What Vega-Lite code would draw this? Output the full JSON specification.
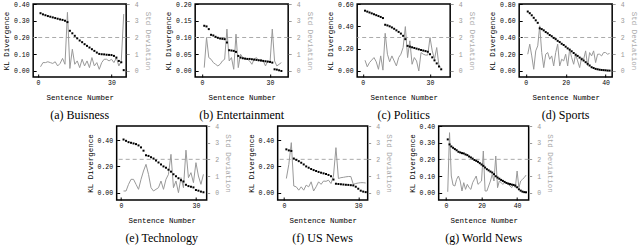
{
"$schema":"https://vega.github.io/schema/vega-lite/v6.json",
"padding":{"left":1,"top":0,"right":0,"bottom":0},
"background":"white",
"config":{
 "view":{"stroke":"#000","strokeWidth":1.5},
 "axis":{"labelFont":"Liberation Mono","labelFontSize":6.5,"titleFont":"Liberation Mono","titleFontSize":7.5,"titleFontWeight":"normal","grid":false,"tickSize":-3,"tickColor":"#000","labelColor":"#000","titleColor":"#000","domain":false},
 "title":{"font":"Liberation Serif","fontSize":12,"fontWeight":"normal","color":"#000","orient":"bottom","offset":9,"anchor":"middle"}
},
"datasets":{
 "rows":[
{"p":"a","x":1,"kl":0.345,"std":0.25},{"p":"a","x":2,"kl":0.338,"std":0.5},{"p":"a","x":3,"kl":0.333,"std":0.5},{"p":"a","x":4,"kl":0.328,"std":0.55},{"p":"a","x":5,"kl":0.324,"std":0.5},{"p":"a","x":6,"kl":0.32,"std":0.45},{"p":"a","x":7,"kl":0.316,"std":0.55},{"p":"a","x":8,"kl":0.312,"std":0.3},{"p":"a","x":9,"kl":0.308,"std":0.45},{"p":"a","x":10,"kl":0.305,"std":0.75},{"p":"a","x":11,"kl":0.3,"std":0.4},{"p":"a","x":12,"kl":0.292,"std":3.5},{"p":"a","x":13,"kl":0.24,"std":0.15},{"p":"a","x":14,"kl":0.225,"std":1.3},{"p":"a","x":15,"kl":0.21,"std":0.4},{"p":"a","x":16,"kl":0.195,"std":0.6},{"p":"a","x":17,"kl":0.182,"std":0.2},{"p":"a","x":18,"kl":0.172,"std":0.7},{"p":"a","x":19,"kl":0.16,"std":0.3},{"p":"a","x":20,"kl":0.15,"std":0.6},{"p":"a","x":21,"kl":0.14,"std":0.2},{"p":"a","x":22,"kl":0.13,"std":0.8},{"p":"a","x":23,"kl":0.12,"std":0.3},{"p":"a","x":24,"kl":0.11,"std":0.5},{"p":"a","x":25,"kl":0.102,"std":0.1},{"p":"a","x":26,"kl":0.1,"std":0.5},{"p":"a","x":27,"kl":0.099,"std":0.7},{"p":"a","x":28,"kl":0.097,"std":0.7},{"p":"a","x":29,"kl":0.096,"std":0.6},{"p":"a","x":30,"kl":0.095,"std":0.7},{"p":"a","x":31,"kl":0.09,"std":0.5},{"p":"a","x":32,"kl":0.08,"std":0.8},{"p":"a","x":33,"kl":0.06,"std":0.3},{"p":"a","x":34,"kl":0.052,"std":0.6},{"p":"a","x":35,"kl":0.005,"std":3.4},
{"p":"b","x":1,"kl":0.135,"std":0.2},{"p":"b","x":2,"kl":0.133,"std":2.0},{"p":"b","x":3,"kl":0.125,"std":0.8},{"p":"b","x":4,"kl":0.108,"std":0.7},{"p":"b","x":5,"kl":0.106,"std":0.5},{"p":"b","x":6,"kl":0.102,"std":0.4},{"p":"b","x":7,"kl":0.099,"std":0.3},{"p":"b","x":8,"kl":0.097,"std":0.4},{"p":"b","x":9,"kl":0.096,"std":0.6},{"p":"b","x":10,"kl":0.095,"std":0.7},{"p":"b","x":11,"kl":0.085,"std":2.5},{"p":"b","x":12,"kl":0.062,"std":0.6},{"p":"b","x":13,"kl":0.061,"std":0.8},{"p":"b","x":14,"kl":0.06,"std":0.1},{"p":"b","x":15,"kl":0.057,"std":2.2},{"p":"b","x":16,"kl":0.045,"std":0.2},{"p":"b","x":17,"kl":0.04,"std":1.0},{"p":"b","x":18,"kl":0.038,"std":0.8},{"p":"b","x":19,"kl":0.037,"std":0.7},{"p":"b","x":20,"kl":0.036,"std":0.7},{"p":"b","x":21,"kl":0.036,"std":0.6},{"p":"b","x":22,"kl":0.035,"std":0.4},{"p":"b","x":23,"kl":0.034,"std":0.7},{"p":"b","x":24,"kl":0.033,"std":0.8},{"p":"b","x":25,"kl":0.032,"std":0.6},{"p":"b","x":26,"kl":0.031,"std":0.7},{"p":"b","x":27,"kl":0.03,"std":0.6},{"p":"b","x":28,"kl":0.029,"std":0.3},{"p":"b","x":29,"kl":0.028,"std":0.6},{"p":"b","x":30,"kl":0.027,"std":0.5},{"p":"b","x":31,"kl":0.025,"std":2.5},{"p":"b","x":32,"kl":0.005,"std":0.6},{"p":"b","x":33,"kl":0.004,"std":0.3},{"p":"b","x":34,"kl":0.002,"std":0.4},{"p":"b","x":35,"kl":0.0,"std":0.5},
{"p":"c","x":1,"kl":0.54,"std":0.64},{"p":"c","x":2,"kl":0.532,"std":0.25},{"p":"c","x":3,"kl":0.524,"std":0.5},{"p":"c","x":4,"kl":0.516,"std":0.65},{"p":"c","x":5,"kl":0.508,"std":0.8},{"p":"c","x":6,"kl":0.5,"std":0.55},{"p":"c","x":7,"kl":0.492,"std":0.1},{"p":"c","x":8,"kl":0.484,"std":0.9},{"p":"c","x":9,"kl":0.474,"std":0.05},{"p":"c","x":10,"kl":0.414,"std":2.25},{"p":"c","x":11,"kl":0.408,"std":1.0},{"p":"c","x":12,"kl":0.4,"std":0.55},{"p":"c","x":13,"kl":0.39,"std":0.9},{"p":"c","x":14,"kl":0.378,"std":0.6},{"p":"c","x":15,"kl":0.364,"std":0.3},{"p":"c","x":16,"kl":0.35,"std":0.8},{"p":"c","x":17,"kl":0.335,"std":1.0},{"p":"c","x":18,"kl":0.315,"std":1.4},{"p":"c","x":19,"kl":0.285,"std":2.65},{"p":"c","x":20,"kl":0.225,"std":0.8},{"p":"c","x":21,"kl":0.218,"std":1.8},{"p":"c","x":22,"kl":0.212,"std":0.4},{"p":"c","x":23,"kl":0.206,"std":0.8},{"p":"c","x":24,"kl":0.2,"std":0.6},{"p":"c","x":25,"kl":0.194,"std":0.0},{"p":"c","x":26,"kl":0.188,"std":1.1},{"p":"c","x":27,"kl":0.183,"std":1.0},{"p":"c","x":28,"kl":0.178,"std":0.95},{"p":"c","x":29,"kl":0.172,"std":0.95},{"p":"c","x":30,"kl":0.15,"std":2.0},{"p":"c","x":31,"kl":0.122,"std":1.2},{"p":"c","x":32,"kl":0.095,"std":0.7},{"p":"c","x":33,"kl":0.068,"std":1.4},{"p":"c","x":34,"kl":0.04,"std":0.3},{"p":"c","x":35,"kl":0.015,"std":0.2},
{"p":"d","x":1,"kl":0.71,"std":1.0},{"p":"d","x":2,"kl":0.69,"std":1.6},{"p":"d","x":3,"kl":0.665,"std":0.9},{"p":"d","x":4,"kl":0.635,"std":0.1},{"p":"d","x":5,"kl":0.605,"std":1.2},{"p":"d","x":6,"kl":0.575,"std":1.5},{"p":"d","x":7,"kl":0.51,"std":2.7},{"p":"d","x":8,"kl":0.5,"std":1.1},{"p":"d","x":9,"kl":0.485,"std":0.2},{"p":"d","x":10,"kl":0.465,"std":1.0},{"p":"d","x":11,"kl":0.45,"std":1.1},{"p":"d","x":12,"kl":0.43,"std":0.7},{"p":"d","x":13,"kl":0.415,"std":0.9},{"p":"d","x":14,"kl":0.395,"std":0.3},{"p":"d","x":15,"kl":0.38,"std":1.1},{"p":"d","x":16,"kl":0.36,"std":1.6},{"p":"d","x":17,"kl":0.345,"std":0.3},{"p":"d","x":18,"kl":0.325,"std":0.7},{"p":"d","x":19,"kl":0.31,"std":0.6},{"p":"d","x":20,"kl":0.29,"std":1.0},{"p":"d","x":21,"kl":0.27,"std":0.3},{"p":"d","x":22,"kl":0.255,"std":1.3},{"p":"d","x":23,"kl":0.235,"std":0.8},{"p":"d","x":24,"kl":0.215,"std":0.4},{"p":"d","x":25,"kl":0.195,"std":1.0},{"p":"d","x":26,"kl":0.18,"std":0.6},{"p":"d","x":27,"kl":0.16,"std":0.2},{"p":"d","x":28,"kl":0.14,"std":0.8},{"p":"d","x":29,"kl":0.125,"std":0.7},{"p":"d","x":30,"kl":0.105,"std":1.2},{"p":"d","x":31,"kl":0.085,"std":0.3},{"p":"d","x":32,"kl":0.065,"std":1.1},{"p":"d","x":33,"kl":0.045,"std":0.9},{"p":"d","x":34,"kl":0.035,"std":1.2},{"p":"d","x":35,"kl":0.025,"std":0.5},{"p":"d","x":36,"kl":0.02,"std":1.0},{"p":"d","x":37,"kl":0.015,"std":1.0},{"p":"d","x":38,"kl":0.012,"std":0.9},{"p":"d","x":39,"kl":0.01,"std":1.1},{"p":"d","x":40,"kl":0.008,"std":1.1},{"p":"d","x":41,"kl":0.005,"std":1.0},{"p":"d","x":42,"kl":0.004,"std":1.05},
{"p":"e","x":1,"kl":0.405,"std":0.1},{"p":"e","x":2,"kl":0.395,"std":0.1},{"p":"e","x":3,"kl":0.385,"std":0.5},{"p":"e","x":4,"kl":0.38,"std":0.8},{"p":"e","x":5,"kl":0.375,"std":0.8},{"p":"e","x":6,"kl":0.37,"std":0.5},{"p":"e","x":7,"kl":0.36,"std":0.2},{"p":"e","x":8,"kl":0.345,"std":0.8},{"p":"e","x":9,"kl":0.32,"std":1.3},{"p":"e","x":10,"kl":0.285,"std":1.7},{"p":"e","x":11,"kl":0.28,"std":1.1},{"p":"e","x":12,"kl":0.27,"std":0.3},{"p":"e","x":13,"kl":0.26,"std":0.1},{"p":"e","x":14,"kl":0.245,"std":0.2},{"p":"e","x":15,"kl":0.23,"std":0.3},{"p":"e","x":16,"kl":0.215,"std":0.7},{"p":"e","x":17,"kl":0.2,"std":0.2},{"p":"e","x":18,"kl":0.19,"std":0.8},{"p":"e","x":19,"kl":0.175,"std":1.1},{"p":"e","x":20,"kl":0.16,"std":2.3},{"p":"e","x":21,"kl":0.14,"std":0.3},{"p":"e","x":22,"kl":0.125,"std":0.7},{"p":"e","x":23,"kl":0.11,"std":0.0},{"p":"e","x":24,"kl":0.095,"std":0.9},{"p":"e","x":25,"kl":0.085,"std":0.3},{"p":"e","x":26,"kl":0.06,"std":2.55},{"p":"e","x":27,"kl":0.05,"std":0.9},{"p":"e","x":28,"kl":0.045,"std":1.2},{"p":"e","x":29,"kl":0.04,"std":0.6},{"p":"e","x":30,"kl":0.02,"std":1.8},{"p":"e","x":31,"kl":0.015,"std":1.0},{"p":"e","x":32,"kl":0.008,"std":0.5},{"p":"e","x":33,"kl":0.003,"std":1.1},
{"p":"f","x":1,"kl":0.33,"std":0.85},{"p":"f","x":2,"kl":0.322,"std":1.7},{"p":"f","x":3,"kl":0.318,"std":3.0},{"p":"f","x":4,"kl":0.26,"std":0.4},{"p":"f","x":5,"kl":0.25,"std":0.35},{"p":"f","x":6,"kl":0.24,"std":0.15},{"p":"f","x":7,"kl":0.228,"std":0.35},{"p":"f","x":8,"kl":0.215,"std":0.15},{"p":"f","x":9,"kl":0.2,"std":0.45},{"p":"f","x":10,"kl":0.19,"std":0.35},{"p":"f","x":11,"kl":0.18,"std":0.65},{"p":"f","x":12,"kl":0.172,"std":0.1},{"p":"f","x":13,"kl":0.165,"std":0.35},{"p":"f","x":14,"kl":0.158,"std":0.65},{"p":"f","x":15,"kl":0.152,"std":0.5},{"p":"f","x":16,"kl":0.147,"std":0.7},{"p":"f","x":17,"kl":0.142,"std":0.68},{"p":"f","x":18,"kl":0.135,"std":0.75},{"p":"f","x":19,"kl":0.125,"std":0.55},{"p":"f","x":20,"kl":0.1,"std":1.0},{"p":"f","x":21,"kl":0.068,"std":2.7},{"p":"f","x":22,"kl":0.066,"std":0.85},{"p":"f","x":23,"kl":0.064,"std":0.9},{"p":"f","x":24,"kl":0.062,"std":0.92},{"p":"f","x":25,"kl":0.06,"std":0.95},{"p":"f","x":26,"kl":0.059,"std":0.97},{"p":"f","x":27,"kl":0.057,"std":0.97},{"p":"f","x":28,"kl":0.055,"std":0.5},{"p":"f","x":29,"kl":0.045,"std":0.55},{"p":"f","x":30,"kl":0.03,"std":0.58},{"p":"f","x":31,"kl":0.015,"std":0.6},{"p":"f","x":32,"kl":0.008,"std":0.6},{"p":"f","x":33,"kl":0.004,"std":0.58},
{"p":"g","x":1,"kl":0.32,"std":0.05},{"p":"g","x":2,"kl":0.29,"std":3.6},{"p":"g","x":3,"kl":0.278,"std":1.0},{"p":"g","x":4,"kl":0.27,"std":0.45},{"p":"g","x":5,"kl":0.262,"std":0.4},{"p":"g","x":6,"kl":0.255,"std":0.8},{"p":"g","x":7,"kl":0.246,"std":1.0},{"p":"g","x":8,"kl":0.242,"std":0.7},{"p":"g","x":9,"kl":0.238,"std":0.1},{"p":"g","x":10,"kl":0.236,"std":0.6},{"p":"g","x":11,"kl":0.23,"std":0.2},{"p":"g","x":12,"kl":0.226,"std":0.5},{"p":"g","x":13,"kl":0.218,"std":0.3},{"p":"g","x":14,"kl":0.212,"std":0.2},{"p":"g","x":15,"kl":0.205,"std":0.6},{"p":"g","x":16,"kl":0.197,"std":0.8},{"p":"g","x":17,"kl":0.192,"std":1.0},{"p":"g","x":18,"kl":0.186,"std":0.5},{"p":"g","x":19,"kl":0.178,"std":0.6},{"p":"g","x":20,"kl":0.17,"std":0.7},{"p":"g","x":21,"kl":0.162,"std":2.5},{"p":"g","x":22,"kl":0.152,"std":0.1},{"p":"g","x":23,"kl":0.142,"std":0.1},{"p":"g","x":24,"kl":0.135,"std":0.4},{"p":"g","x":25,"kl":0.128,"std":0.7},{"p":"g","x":26,"kl":0.122,"std":1.1},{"p":"g","x":27,"kl":0.112,"std":0.7},{"p":"g","x":28,"kl":0.1,"std":2.2},{"p":"g","x":29,"kl":0.092,"std":0.3},{"p":"g","x":30,"kl":0.085,"std":0.7},{"p":"g","x":31,"kl":0.078,"std":0.6},{"p":"g","x":32,"kl":0.072,"std":0.5},{"p":"g","x":33,"kl":0.066,"std":0.6},{"p":"g","x":34,"kl":0.06,"std":0.6},{"p":"g","x":35,"kl":0.056,"std":0.5},{"p":"g","x":36,"kl":0.053,"std":0.4},{"p":"g","x":37,"kl":0.05,"std":0.3},{"p":"g","x":38,"kl":0.048,"std":0.5},{"p":"g","x":39,"kl":0.044,"std":0.3},{"p":"g","x":40,"kl":0.034,"std":1.3},{"p":"g","x":41,"kl":0.022,"std":0.3},{"p":"g","x":42,"kl":0.014,"std":0.7},{"p":"g","x":43,"kl":0.008,"std":0.8},{"p":"g","x":44,"kl":0.005,"std":0.9},{"p":"g","x":45,"kl":0.004,"std":1.05}
 ],
 "ref":[{"std":2}]
},
"vconcat":[
 {"hconcat":[
  {"width":93,"height":73,"title":"(a) Buisness",
   "layer":[
    {"layer":[
     {"data":{"name":"ref"},"mark":{"type":"rule","color":"#aaa","strokeDash":[4,3],"strokeWidth":1},
      "encoding":{"y":{"field":"std","type":"quantitative","scale":{"domain":[-0.36,4],"nice":false,"zero":false},"axis":{"orient":"right","title":"Std Deviation","values":[0,1,2,3,4],"format":"d","tickSize":3,"labelPadding":5,"titlePadding":5,"labelColor":"#999","titleColor":"#aaa","tickColor":"#999"}}}},
     {"data":{"name":"rows"},"transform":[{"filter":"datum.p=='a'"}],"mark":{"type":"line","color":"#999","strokeWidth":1},
      "encoding":{"x":{"field":"x","type":"quantitative","scale":{"domain":[-2,36],"nice":false,"zero":false},"axis":{"title":"Sentence Number","values":[0,10,20,30],"labelPadding":5.5,"titlePadding":7}},
       "y":{"field":"std","type":"quantitative","scale":{"domain":[-0.36,4],"nice":false,"zero":false},"axis":{"orient":"right","title":"Std Deviation","values":[0,1,2,3,4],"format":"d","tickSize":3,"labelPadding":5,"titlePadding":5,"labelColor":"#999","titleColor":"#aaa","tickColor":"#999"}}}}
    ]},
    {"data":{"name":"rows"},"transform":[{"filter":"datum.p=='a'"}],"mark":{"type":"point","shape":"square","filled":true,"color":"#000","size":4,"opacity":1},
     "encoding":{"x":{"field":"x","type":"quantitative"},
      "y":{"field":"kl","type":"quantitative","scale":{"domain":[-0.036,0.4],"nice":false,"zero":false},"axis":{"orient":"left","title":"KL Divergence","values":[0,0.1,0.2,0.3,0.4],"format":".2f","labelPadding":7,"titlePadding":3}}}}
   ],
   "resolve":{"scale":{"y":"independent"}}},
  {"width":93,"height":73,"title":"(b) Entertainment",
   "layer":[
    {"layer":[
     {"data":{"name":"ref"},"mark":{"type":"rule","color":"#aaa","strokeDash":[4,3],"strokeWidth":1},
      "encoding":{"y":{"field":"std","type":"quantitative","scale":{"domain":[-0.36,4],"nice":false,"zero":false},"axis":{"orient":"right","title":"Std Deviation","values":[0,1,2,3,4],"format":"d","tickSize":3,"labelPadding":5,"titlePadding":5,"labelColor":"#999","titleColor":"#aaa","tickColor":"#999"}}}},
     {"data":{"name":"rows"},"transform":[{"filter":"datum.p=='b'"}],"mark":{"type":"line","color":"#999","strokeWidth":1},
      "encoding":{"x":{"field":"x","type":"quantitative","scale":{"domain":[-3,38],"nice":false,"zero":false},"axis":{"title":"Sentence Number","values":[0,10,20,30],"labelPadding":5.5,"titlePadding":7}},
       "y":{"field":"std","type":"quantitative","scale":{"domain":[-0.36,4],"nice":false,"zero":false},"axis":{"orient":"right","title":"Std Deviation","values":[0,1,2,3,4],"format":"d","tickSize":3,"labelPadding":5,"titlePadding":5,"labelColor":"#999","titleColor":"#aaa","tickColor":"#999"}}}}
    ]},
    {"data":{"name":"rows"},"transform":[{"filter":"datum.p=='b'"}],"mark":{"type":"point","shape":"square","filled":true,"color":"#000","size":4,"opacity":1},
     "encoding":{"x":{"field":"x","type":"quantitative"},
      "y":{"field":"kl","type":"quantitative","scale":{"domain":[-0.018,0.2],"nice":false,"zero":false},"axis":{"orient":"left","title":"KL Divergence","values":[0,0.05,0.1,0.15,0.2],"format":".2f","labelPadding":7,"titlePadding":3}}}}
   ],
   "resolve":{"scale":{"y":"independent"}}},
  {"width":93,"height":73,"title":"(c) Politics",
   "layer":[
    {"layer":[
     {"data":{"name":"ref"},"mark":{"type":"rule","color":"#aaa","strokeDash":[4,3],"strokeWidth":1},
      "encoding":{"y":{"field":"std","type":"quantitative","scale":{"domain":[-0.36,4],"nice":false,"zero":false},"axis":{"orient":"right","title":"Std Deviation","values":[0,1,2,3,4],"format":"d","tickSize":3,"labelPadding":5,"titlePadding":5,"labelColor":"#999","titleColor":"#aaa","tickColor":"#999"}}}},
     {"data":{"name":"rows"},"transform":[{"filter":"datum.p=='c'"}],"mark":{"type":"line","color":"#999","strokeWidth":1},
      "encoding":{"x":{"field":"x","type":"quantitative","scale":{"domain":[-2.5,39],"nice":false,"zero":false},"axis":{"title":"Sentence Number","values":[0,10,20,30],"labelPadding":5.5,"titlePadding":7}},
       "y":{"field":"std","type":"quantitative","scale":{"domain":[-0.36,4],"nice":false,"zero":false},"axis":{"orient":"right","title":"Std Deviation","values":[0,1,2,3,4],"format":"d","tickSize":3,"labelPadding":5,"titlePadding":5,"labelColor":"#999","titleColor":"#aaa","tickColor":"#999"}}}}
    ]},
    {"data":{"name":"rows"},"transform":[{"filter":"datum.p=='c'"}],"mark":{"type":"point","shape":"square","filled":true,"color":"#000","size":4,"opacity":1},
     "encoding":{"x":{"field":"x","type":"quantitative"},
      "y":{"field":"kl","type":"quantitative","scale":{"domain":[-0.054,0.6],"nice":false,"zero":false},"axis":{"orient":"left","title":"KL Divergence","values":[0,0.2,0.4,0.6],"format":".2f","labelPadding":7,"titlePadding":3}}}}
   ],
   "resolve":{"scale":{"y":"independent"}}},
  {"width":93,"height":73,"title":"(d) Sports",
   "layer":[
    {"layer":[
     {"data":{"name":"ref"},"mark":{"type":"rule","color":"#aaa","strokeDash":[4,3],"strokeWidth":1},
      "encoding":{"y":{"field":"std","type":"quantitative","scale":{"domain":[-0.36,4],"nice":false,"zero":false},"axis":{"orient":"right","title":"Std Deviation","values":[0,1,2,3,4],"format":"d","tickSize":3,"labelPadding":5,"titlePadding":5,"labelColor":"#999","titleColor":"#aaa","tickColor":"#999"}}}},
     {"data":{"name":"rows"},"transform":[{"filter":"datum.p=='d'"}],"mark":{"type":"line","color":"#999","strokeWidth":1},
      "encoding":{"x":{"field":"x","type":"quantitative","scale":{"domain":[-3.3,43.3],"nice":false,"zero":false},"axis":{"title":"Sentence Number","values":[0,20,40],"labelPadding":5.5,"titlePadding":7}},
       "y":{"field":"std","type":"quantitative","scale":{"domain":[-0.36,4],"nice":false,"zero":false},"axis":{"orient":"right","title":"Std Deviation","values":[0,1,2,3,4],"format":"d","tickSize":3,"labelPadding":5,"titlePadding":5,"labelColor":"#999","titleColor":"#aaa","tickColor":"#999"}}}}
    ]},
    {"data":{"name":"rows"},"transform":[{"filter":"datum.p=='d'"}],"mark":{"type":"point","shape":"square","filled":true,"color":"#000","size":4,"opacity":1},
     "encoding":{"x":{"field":"x","type":"quantitative"},
      "y":{"field":"kl","type":"quantitative","scale":{"domain":[-0.072,0.8],"nice":false,"zero":false},"axis":{"orient":"left","title":"KL Divergence","values":[0,0.2,0.4,0.6,0.8],"format":".2f","labelPadding":7,"titlePadding":3}}}}
   ],
   "resolve":{"scale":{"y":"independent"}}}
 ],"spacing":69,"bounds":"flush"},
 {"hconcat":[
  {"width":90,"height":74,"title":"(e) Technology",
   "layer":[
    {"layer":[
     {"data":{"name":"ref"},"mark":{"type":"rule","color":"#aaa","strokeDash":[4,3],"strokeWidth":1},
      "encoding":{"y":{"field":"std","type":"quantitative","scale":{"domain":[-0.44,4],"nice":false,"zero":false},"axis":{"orient":"right","title":"Std Deviation","values":[0,1,2,3,4],"format":"d","tickSize":3,"labelPadding":5,"titlePadding":5,"labelColor":"#999","titleColor":"#aaa","tickColor":"#999"}}}},
     {"data":{"name":"rows"},"transform":[{"filter":"datum.p=='e'"}],"mark":{"type":"line","color":"#999","strokeWidth":1},
      "encoding":{"x":{"field":"x","type":"quantitative","scale":{"domain":[-1.75,34.3],"nice":false,"zero":false},"axis":{"title":"Sentence Number","values":[0,10,20,30],"labelPadding":5.5,"titlePadding":7}},
       "y":{"field":"std","type":"quantitative","scale":{"domain":[-0.44,4],"nice":false,"zero":false},"axis":{"orient":"right","title":"Std Deviation","values":[0,1,2,3,4],"format":"d","tickSize":3,"labelPadding":5,"titlePadding":5,"labelColor":"#999","titleColor":"#aaa","tickColor":"#999"}}}}
    ]},
    {"data":{"name":"rows"},"transform":[{"filter":"datum.p=='e'"}],"mark":{"type":"point","shape":"square","filled":true,"color":"#000","size":4,"opacity":1},
     "encoding":{"x":{"field":"x","type":"quantitative"},
      "y":{"field":"kl","type":"quantitative","scale":{"domain":[-0.056,0.508],"nice":false,"zero":false},"axis":{"orient":"left","title":"KL Divergence","values":[0,0.2,0.4],"format":".2f","labelPadding":7,"titlePadding":3}}}}
   ],
   "resolve":{"scale":{"y":"independent"}}},
  {"width":90,"height":74,"title":"(f) US News",
   "layer":[
    {"layer":[
     {"data":{"name":"ref"},"mark":{"type":"rule","color":"#aaa","strokeDash":[4,3],"strokeWidth":1},
      "encoding":{"y":{"field":"std","type":"quantitative","scale":{"domain":[-0.44,4],"nice":false,"zero":false},"axis":{"orient":"right","title":"Std Deviation","values":[0,1,2,3,4],"format":"d","tickSize":3,"labelPadding":5,"titlePadding":5,"labelColor":"#999","titleColor":"#aaa","tickColor":"#999"}}}},
     {"data":{"name":"rows"},"transform":[{"filter":"datum.p=='f'"}],"mark":{"type":"line","color":"#999","strokeWidth":1},
      "encoding":{"x":{"field":"x","type":"quantitative","scale":{"domain":[-2.5,33.8],"nice":false,"zero":false},"axis":{"title":"Sentence Number","values":[0,10,20,30],"labelPadding":5.5,"titlePadding":7}},
       "y":{"field":"std","type":"quantitative","scale":{"domain":[-0.44,4],"nice":false,"zero":false},"axis":{"orient":"right","title":"Std Deviation","values":[0,1,2,3,4],"format":"d","tickSize":3,"labelPadding":5,"titlePadding":5,"labelColor":"#999","titleColor":"#aaa","tickColor":"#999"}}}}
    ]},
    {"data":{"name":"rows"},"transform":[{"filter":"datum.p=='f'"}],"mark":{"type":"point","shape":"square","filled":true,"color":"#000","size":4,"opacity":1},
     "encoding":{"x":{"field":"x","type":"quantitative"},
      "y":{"field":"kl","type":"quantitative","scale":{"domain":[-0.056,0.508],"nice":false,"zero":false},"axis":{"orient":"left","title":"KL Divergence","values":[0,0.2,0.4],"format":".2f","labelPadding":7,"titlePadding":3}}}}
   ],
   "resolve":{"scale":{"y":"independent"}}},
  {"width":90,"height":74,"title":"(g) World News",
   "layer":[
    {"layer":[
     {"data":{"name":"ref"},"mark":{"type":"rule","color":"#aaa","strokeDash":[4,3],"strokeWidth":1},
      "encoding":{"y":{"field":"std","type":"quantitative","scale":{"domain":[-0.44,4],"nice":false,"zero":false},"axis":{"orient":"right","title":"Std Deviation","values":[0,1,2,3,4],"format":"d","tickSize":3,"labelPadding":5,"titlePadding":5,"labelColor":"#999","titleColor":"#aaa","tickColor":"#999"}}}},
     {"data":{"name":"rows"},"transform":[{"filter":"datum.p=='g'"}],"mark":{"type":"line","color":"#999","strokeWidth":1},
      "encoding":{"x":{"field":"x","type":"quantitative","scale":{"domain":[-4.1,46.5],"nice":false,"zero":false},"axis":{"title":"Sentence Number","values":[0,20,40],"labelPadding":5.5,"titlePadding":7}},
       "y":{"field":"std","type":"quantitative","scale":{"domain":[-0.44,4],"nice":false,"zero":false},"axis":{"orient":"right","title":"Std Deviation","values":[0,1,2,3,4],"format":"d","tickSize":3,"labelPadding":5,"titlePadding":5,"labelColor":"#999","titleColor":"#aaa","tickColor":"#999"}}}}
    ]},
    {"data":{"name":"rows"},"transform":[{"filter":"datum.p=='g'"}],"mark":{"type":"point","shape":"square","filled":true,"color":"#000","size":4,"opacity":1},
     "encoding":{"x":{"field":"x","type":"quantitative"},
      "y":{"field":"kl","type":"quantitative","scale":{"domain":[-0.042,0.4],"nice":false,"zero":false},"axis":{"orient":"left","title":"KL Divergence","values":[0,0.1,0.2,0.3,0.4],"format":".2f","labelPadding":7,"titlePadding":3}}}}
   ],
   "resolve":{"scale":{"y":"independent"}}}
 ],"spacing":71,"bounds":"flush"}
],
"spacing":0,"center":true
}
